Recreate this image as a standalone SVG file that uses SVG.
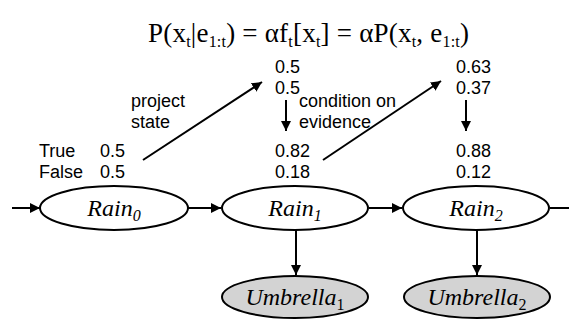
<svg xmlns="http://www.w3.org/2000/svg" width="569" height="320" viewBox="0 0 569 320">
<style>
.lbl{font-family:"Liberation Sans",Arial,sans-serif;font-size:18px;fill:#000}
.math{font-family:"Liberation Serif","DejaVu Serif",serif;font-size:27px;fill:#000}
.node{font-family:"Liberation Serif","Times New Roman",serif;font-style:italic;font-size:24px;fill:#000}
.sub{font-size:16px}
.ell{fill:#fff;stroke:#000;stroke-width:2}
.obs{fill:#d3d3d3;stroke:#000;stroke-width:2}
.edge{stroke:#000;stroke-width:2;fill:none}
</style>
<defs>
<marker id="ah" viewBox="0 0 10 10" refX="10" refY="5" markerWidth="5" markerHeight="5" orient="auto" markerUnits="strokeWidth">
<path d="M0,0 L10,5 L0,10 z" fill="#000"/>
</marker>
</defs>
<text class="math" x="148" y="42" textLength="321" lengthAdjust="spacing">P(x<tspan class="sub" dy="5">t</tspan><tspan dy="-5">|e</tspan><tspan class="sub" dy="5">1:t</tspan><tspan dy="-5">) = αf</tspan><tspan class="sub" dy="5">t</tspan><tspan dy="-5">[x</tspan><tspan class="sub" dy="5">t</tspan><tspan dy="-5">] = αP(x</tspan><tspan class="sub" dy="5">t</tspan><tspan dy="-5">, e</tspan><tspan class="sub" dy="5">1:t</tspan><tspan dy="-5">)</tspan></text>
<g id="labels">
<text class="lbl" x="39" y="157">True</text>
<text class="lbl" x="39" y="178">False</text>
<text class="lbl" x="100" y="157">0.5</text>
<text class="lbl" x="100" y="178">0.5</text>
<text class="lbl" x="275" y="73">0.5</text>
<text class="lbl" x="275" y="94">0.5</text>
<text class="lbl" x="275" y="157">0.82</text>
<text class="lbl" x="275" y="178">0.18</text>
<text class="lbl" x="456" y="73">0.63</text>
<text class="lbl" x="456" y="94">0.37</text>
<text class="lbl" x="456" y="157">0.88</text>
<text class="lbl" x="456" y="178">0.12</text>
<text class="lbl" x="131" y="107">project</text>
<text class="lbl" x="131" y="128">state</text>
<text class="lbl" x="299" y="107">condition on</text>
<text class="lbl" x="299" y="128">evidence</text>
</g>
<g id="connectors">
<line class="edge" x1="143" y1="160" x2="262" y2="82" marker-end="url(#ah)"/>
<line class="edge" x1="323" y1="160" x2="441" y2="81" marker-end="url(#ah)"/>
<line class="edge" x1="286" y1="100" x2="286" y2="131" marker-end="url(#ah)"/>
<line class="edge" x1="466" y1="100" x2="466" y2="131" marker-end="url(#ah)"/>
<line class="edge" x1="12" y1="208" x2="40" y2="208" marker-end="url(#ah)"/>
<line class="edge" x1="188" y1="208" x2="221" y2="208" marker-end="url(#ah)"/>
<line class="edge" x1="369" y1="208" x2="402" y2="208" marker-end="url(#ah)"/>
<line class="edge" x1="550" y1="208" x2="569" y2="208"/>
<line class="edge" x1="296" y1="230" x2="296" y2="275" marker-end="url(#ah)"/>
<line class="edge" x1="477" y1="230" x2="477" y2="275" marker-end="url(#ah)"/>
</g>
<g id="rain0">
<ellipse class="ell" cx="114" cy="208" rx="74" ry="22"/>
<text class="node" x="114" y="216" text-anchor="middle">Rain<tspan class="sub" dy="5">0</tspan></text>
</g>
<g id="rain1">
<ellipse class="ell" cx="295" cy="208" rx="73" ry="22"/>
<text class="node" x="295" y="216" text-anchor="middle">Rain<tspan class="sub" dy="5">1</tspan></text>
</g>
<g id="rain2">
<ellipse class="ell" cx="476" cy="208" rx="73" ry="22"/>
<text class="node" x="476" y="216" text-anchor="middle">Rain<tspan class="sub" dy="5">2</tspan></text>
</g>
<g id="umbrella1">
<ellipse class="obs" cx="295" cy="297" rx="73" ry="21"/>
<text class="node" x="295" y="305" text-anchor="middle">Umbrella<tspan class="sub" dy="5" font-style="normal">1</tspan></text>
</g>
<g id="umbrella2">
<ellipse class="obs" cx="477" cy="297" rx="73" ry="21"/>
<text class="node" x="477" y="305" text-anchor="middle">Umbrella<tspan class="sub" dy="5" font-style="normal">2</tspan></text>
</g>
</svg>
